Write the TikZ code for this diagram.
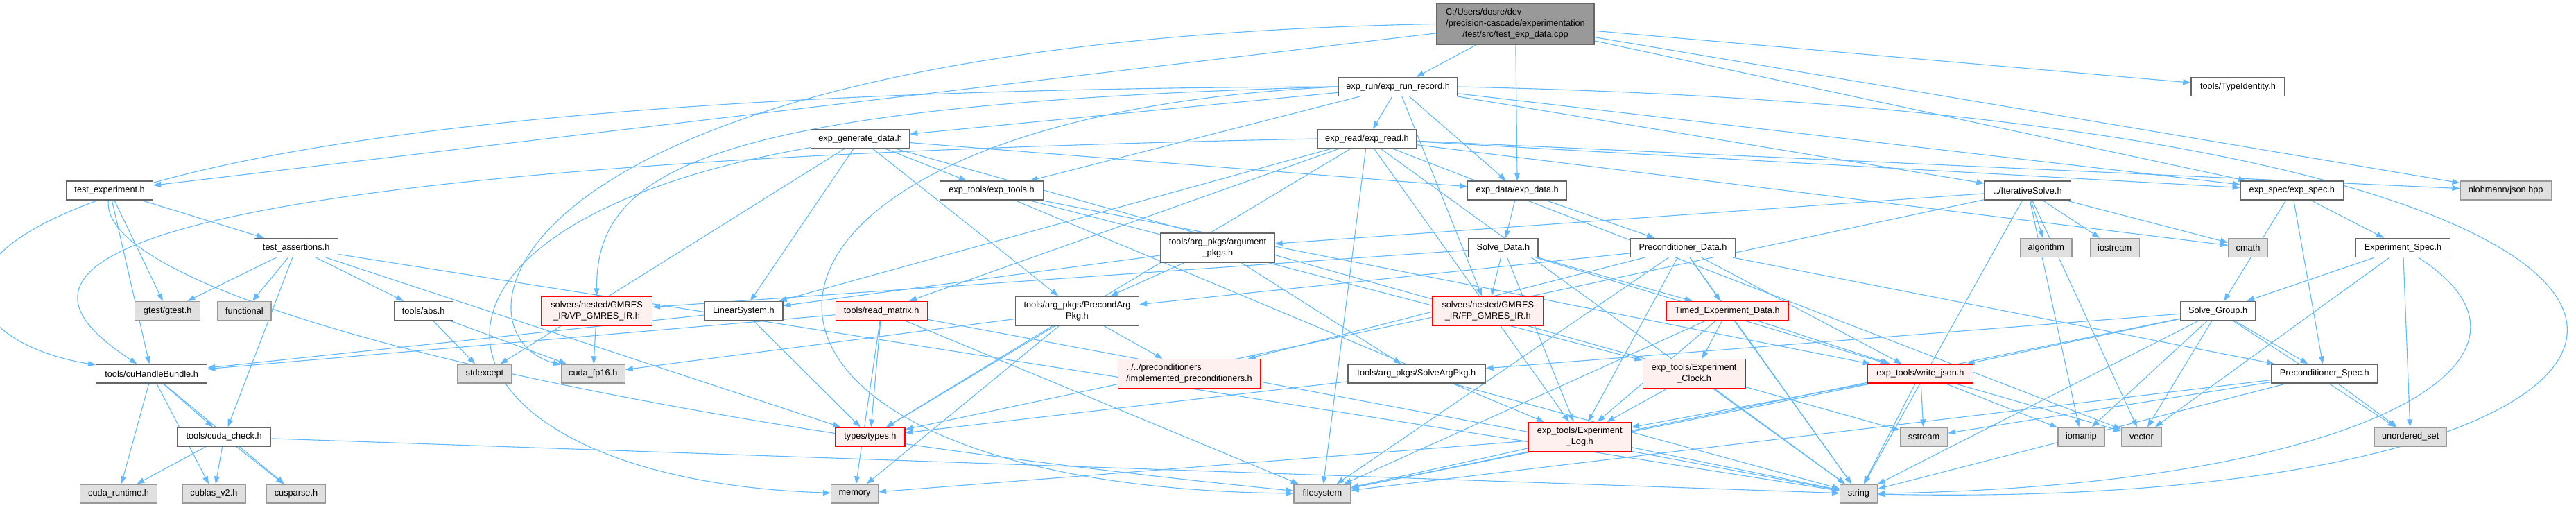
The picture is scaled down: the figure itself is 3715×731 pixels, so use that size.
\documentclass[tikz,border=0pt]{standalone}
\usepackage{fontspec}
\setmainfont{Liberation Sans}
\usetikzlibrary{arrows.meta, positioning}
\definecolor{edgeblue}{RGB}{99,184,255}
\definecolor{redfill}{HTML}{FFF0F0}
\definecolor{sysfill}{HTML}{E0E0E0}
\definecolor{rootfill}{HTML}{999999}
\pgfdeclarelayer{edges}
\pgfsetlayers{edges,main}

\begin{document}
\begin{tikzpicture}[x=1pt, y=1pt,
  hdr/.style={rectangle, draw=black!60, fill=white, line width=1.3pt,
              minimum height=27pt, inner sep=1pt, align=center,
              font=\fontsize{12.75}{16}\selectfont},
  twoline/.style={minimum height=42pt},
  syshdr/.style={hdr, draw=black!40, fill=sysfill},
  trunchdr/.style={hdr, draw=red, fill=redfill},
  srcbox/.style={hdr, fill=rootfill, minimum height=59pt},
  inc/.style={-{Triangle[length=11pt, width=8pt]}, draw=edgeblue, line width=1.1pt}
]
  \useasboundingbox (0,0) rectangle (3715,-731);

  % row 0
  \node[srcbox, minimum width=227pt] (root) at (2185.5,-34.5)
    {\rlap{C:/Users/dosre/dev}\phantom{/precision-cascade/experimentation}\\/precision-cascade/experimentation\\/test/src/test\_exp\_data.cpp};

  % row 1
  \node[hdr, minimum width=171pt, anchor=west] (exprun) at (1930,-125) {exp\_run/exp\_run\_record.h};
  \node[hdr, minimum width=135pt, right=1057pt of exprun] (typeid) {tools/TypeIdentity.h};

  % row 2
  \node[hdr, minimum width=142pt, anchor=west] (expgen) at (1169,-200) {exp\_generate\_data.h};
  \node[hdr, minimum width=143pt, right=587pt of expgen] (expread) {exp\_read/exp\_read.h};

  % row 3
  \node[hdr, minimum width=125pt, anchor=west] (testexp) at (95,-274.5) {test\_experiment.h};
  \node[hdr, minimum width=149pt, right=1133.5pt of testexp] (exptools) {exp\_tools/exp\_tools.h};
  \node[hdr, minimum width=143pt, right=611pt of exptools] (expdata) {exp\_data/exp\_data.h};
  \node[hdr, minimum width=124.5pt, right=601pt of expdata] (itsolve) {../IterativeSolve.h};
  \node[hdr, minimum width=148pt, right=243.5pt of itsolve] (expspec) {exp\_spec/exp\_spec.h};
  \node[syshdr, minimum width=131pt, right=167.5pt of expspec] (json) {nlohmann/json.hpp};

  % row 4
  \node[hdr, minimum width=121pt, anchor=west] (testassert) at (366,-357) {test\_assertions.h};
  \node[hdr, twoline, minimum width=164pt, right=1185pt of testassert] (argpkgs) {tools/arg\_pkgs/argument\\\_pkgs.h};
  \node[hdr, minimum width=100pt, right=278.6pt of argpkgs] (solvedata) {Solve\_Data.h};
  \node[hdr, minimum width=151pt, right=132.4pt of solvedata] (precdata) {Preconditioner\_Data.h};
  \node[syshdr, minimum width=74pt, right=410pt of precdata] (algorithm) {algorithm};
  \node[syshdr, minimum width=71pt, right=25pt of algorithm] (iostream) {iostream};
  \node[syshdr, minimum width=57pt, right=127pt of iostream] (cmath) {cmath};
  \node[hdr, minimum width=135.5pt, right=126pt of cmath] (expspecf) {Experiment\_Spec.h};

  % row 5
  \node[syshdr, minimum width=94pt, anchor=west] (gtest) at (194,-448) {gtest/gtest.h};
  \node[syshdr, minimum width=77pt, right=24pt of gtest] (functional) {functional};
  \node[hdr, minimum width=85pt, right=176pt of functional] (abs) {tools/abs.h};
  \node[trunchdr, twoline, minimum width=160pt, right=126pt of abs] (vpgmres) {solvers/nested/GMRES\\\_IR/VP\_GMRES\_IR.h};
  \node[hdr, minimum width=113pt, right=74pt of vpgmres] (linsys) {LinearSystem.h};
  \node[trunchdr, minimum width=132pt, right=75pt of linsys] (readmat) {tools/read\_matrix.h};
  \node[hdr, twoline, minimum width=178pt, right=126pt of readmat] (precarg) {tools/arg\_pkgs/PrecondArg\\Pkg.h};
  \node[trunchdr, twoline, minimum width=160pt, right=422pt of precarg] (fpgmres) {solvers/nested/GMRES\\\_IR/FP\_GMRES\_IR.h};
  \node[trunchdr, minimum width=176pt, right=176pt of fpgmres] (timed) {Timed\_Experiment\_Data.h};
  \node[hdr, minimum width=107.5pt, right=564.5pt of timed] (solvegroup) {Solve\_Group.h};

  % row 6
  \node[hdr, minimum width=160pt, anchor=west] (cuhandle) at (138,-538.5) {tools/cuHandleBundle.h};
  \node[syshdr, minimum width=78pt, right=360pt of cuhandle] (stdexcept) {stdexcept};
  \node[syshdr, minimum width=92pt, right=70pt of stdexcept] (cudafp) {cuda\_fp16.h};
  \node[trunchdr, twoline, minimum width=205pt, align=left, right=710pt of cudafp] (implprec) {../../preconditioners\\/implemented\_preconditioners.h};
  \node[hdr, minimum width=198pt, right=125pt of implprec] (solvearg) {tools/arg\_pkgs/SolveArgPkg.h};
  \node[trunchdr, twoline, minimum width=148pt, right=226pt of solvearg] (clock) {exp\_tools/Experiment\\\_Clock.h};
  \node[trunchdr, minimum width=152pt, right=175pt of clock] (writejson) {exp\_tools/write\_json.h};
  \node[hdr, minimum width=153pt, right=429pt of writejson] (precspec) {Preconditioner\_Spec.h};

  % row 7
  \node[hdr, minimum width=135pt, anchor=west] (cudacheck) at (255,-629.5) {tools/cuda\_check.h};
  \node[trunchdr, minimum width=100pt, right=813pt of cudacheck] (types) {types/types.h};
  \node[trunchdr, twoline, minimum width=148pt, right=898pt of types] (explog) {exp\_tools/Experiment\\\_Log.h};
  \node[syshdr, minimum width=68pt, right=387pt of explog] (sstream) {sstream};
  \node[syshdr, minimum width=67pt, right=158pt of sstream] (iomanip) {iomanip};
  \node[syshdr, minimum width=57.5pt, right=23.5pt of iomanip] (vector) {vector};
  \node[syshdr, minimum width=103.5pt, right=306pt of vector] (unordset) {unordered\_set};

  % row 8
  \node[syshdr, minimum width=111pt, anchor=west] (cudart) at (115,-711.5) {cuda\_runtime.h};
  \node[syshdr, minimum width=91pt, right=35pt of cudart] (cublas) {cublas\_v2.h};
  \node[syshdr, minimum width=85.5pt, right=29pt of cublas] (cusparse) {cusparse.h};
  \node[syshdr, minimum width=68pt, right=727.5pt of cusparse] (memory) {memory};
  \node[syshdr, minimum width=82pt, right=598pt of memory] (filesystem) {filesystem};
  \node[syshdr, minimum width=53.5pt, right=704.5pt of filesystem] (string) {string};

  \begin{pgfonlayer}{edges}
  % includes of the test source
  \draw[inc] (root) -- (exprun);
  \draw[inc] (root) -- (expdata);
  \draw[inc] (root) -- (testexp);
  \draw[inc] (root.west) .. controls (700,-60) and (640,-480) .. (cudafp);
  \draw[inc] (root) -- (typeid);
  \draw[inc] (root) -- (json);
  \draw[inc] (root) -- (expspec);

  % exp_run_record.h
  \draw[inc] (exprun) -- (expread);
  \draw[inc] (exprun) -- (expdata);
  \draw[inc] (exprun) -- (expgen);
  \draw[inc] (exprun) -- (exptools);
  \draw[inc] (exprun) -- (itsolve);
  \draw[inc] (exprun) -- (expspec);
  \draw[inc] (exprun) -- (fpgmres);
  \draw[inc] (exprun.west) .. controls (-300,-130) and (-150,-480) .. (cuhandle);
  \draw[inc] (exprun.west) .. controls (1000,-150) and (860,-250) .. (vpgmres);
  \draw[inc] (exprun.west) .. controls (960,-170) and (940,-700) .. (filesystem);
  \draw[inc] (exprun.east) .. controls (4200,-170) and (4050,-740) .. (string);

  % exp_read.h
  \draw[inc] (expread) -- (json);
  \draw[inc] (expread) -- (expspec);
  \draw[inc] (expread) -- (cmath);
  \draw[inc] (expread) -- (vector);
  \draw[inc] (expread) -- (readmat);
  \draw[inc] (expread) -- (types);
  \draw[inc] (expread) -- (linsys);
  \draw[inc] (expread) -- (explog);
  \draw[inc] (expread) -- (string);
  \draw[inc] (expread) -- (filesystem);
  \draw[inc] (expread.west) .. controls (-100,-240) and (40,-420) .. (cuhandle);

  % exp_generate_data.h
  \draw[inc] (expgen) -- (exptools);
  \draw[inc] (expgen) -- (expdata);
  \draw[inc] (expgen) -- (stdexcept);
  \draw[inc] (expgen) -- (linsys);
  \draw[inc] (expgen) -- (precarg);
  \draw[inc] (expgen) -- (sstream);
  \draw[inc] (expgen) .. controls (500,-330) and (600,-690) .. (memory);

  % test headers
  \draw[inc] (testexp) -- (testassert);
  \draw[inc] (testexp) -- (gtest);
  \draw[inc] (testexp) -- (cuhandle);
  \draw[inc] (testexp) .. controls (140,-420) and (800,-600) .. (filesystem);
  \draw[inc] (testassert) -- (gtest);
  \draw[inc] (testassert) -- (functional);
  \draw[inc] (testassert) -- (abs);
  \draw[inc] (testassert) -- (cudacheck);
  \draw[inc] (testassert) -- (types);
  \draw[inc] (testassert) -- (string);

  % tools
  \draw[inc] (abs) -- (stdexcept);
  \draw[inc] (abs) -- (cudafp);
  \draw[inc] (cuhandle) -- (cudacheck);
  \draw[inc] (cuhandle) -- (cudart);
  \draw[inc] (cuhandle) -- (cublas);
  \draw[inc] (cuhandle) -- (cusparse);
  \draw[inc] (cudacheck) -- (cudart);
  \draw[inc] (cudacheck) -- (cublas);
  \draw[inc] (cudacheck) -- (cusparse);
  \draw[inc] (cudacheck) -- (string);
  \draw[inc] (vpgmres) -- (cudafp);
  \draw[inc] (linsys) -- (cuhandle);
  \draw[inc] (linsys) -- (types);
  \draw[inc] (readmat) -- (cuhandle);
  \draw[inc] (readmat) -- (types);
  \draw[inc] (readmat) -- (memory);
  \draw[inc] (readmat) -- (string);
  \draw[inc] (readmat) -- (filesystem);
  \draw[inc] (precarg) -- (cudafp);
  \draw[inc] (precarg) -- (implprec);
  \draw[inc] (precarg) -- (types);
  \draw[inc] (precarg) -- (memory);
  \draw[inc] (argpkgs) -- (linsys);
  \draw[inc] (argpkgs) -- (precarg);
  \draw[inc] (argpkgs) -- (solvearg);
  \draw[inc] (solvearg) -- (types);
  \draw[inc] (solvearg) -- (string);

  % exp_tools and exp_data
  \draw[inc] (exptools) -- (explog);
  \draw[inc] (exptools) -- (clock);
  \draw[inc] (exptools) -- (writejson);
  \draw[inc] (expdata) -- (solvedata);
  \draw[inc] (expdata) -- (precdata);
  \draw[inc] (solvedata) -- (fpgmres);
  \draw[inc] (solvedata) -- (vpgmres);
  \draw[inc] (solvedata) -- (timed);
  \draw[inc] (solvedata) -- (writejson);
  \draw[inc] (solvedata) -- (explog);
  \draw[inc] (precdata) -- (precarg);
  \draw[inc] (precdata) -- (timed);
  \draw[inc] (precdata) -- (implprec);
  \draw[inc] (precdata) -- (writejson);
  \draw[inc] (precdata) -- (precspec);
  \draw[inc] (precdata) -- (explog);
  \draw[inc] (precdata) -- (filesystem);
  \draw[inc] (precdata) -- (string);
  \draw[inc] (timed) -- (clock);
  \draw[inc] (timed) -- (writejson);
  \draw[inc] (timed) -- (explog);
  \draw[inc] (timed) -- (string);
  \draw[inc] (timed) -- (filesystem);
  \draw[inc] (clock) -- (explog);
  \draw[inc] (clock) -- (string);
  \draw[inc] (writejson) -- (sstream);
  \draw[inc] (writejson) -- (iomanip);
  \draw[inc] (writejson) -- (vector);
  \draw[inc] (writejson) -- (string);
  \draw[inc] (writejson) -- (filesystem);
  \draw[inc] (writejson) -- (explog);
  \draw[inc] (explog) -- (memory);
  \draw[inc] (explog) -- (filesystem);
  \draw[inc] (explog) -- (string);

  % IterativeSolve.h
  \draw[inc] (itsolve) -- (argpkgs);
  \draw[inc] (itsolve) -- (algorithm);
  \draw[inc] (itsolve) -- (iostream);
  \draw[inc] (itsolve) -- (cmath);
  \draw[inc] (itsolve) -- (iomanip);
  \draw[inc] (itsolve) -- (vector);
  \draw[inc] (itsolve) -- (string);
  \draw[inc] (itsolve) -- (types);

  % exp_spec
  \draw[inc] (expspec) -- (expspecf);
  \draw[inc] (expspec) -- (solvegroup);
  \draw[inc] (expspec) -- (precspec);
  \draw[inc] (expspecf) -- (solvegroup);
  \draw[inc] (expspecf) -- (vector);
  \draw[inc] (expspecf) -- (unordset);
  \draw[inc] (expspecf) .. controls (3720,-520) and (3400,-700) .. (string);
  \draw[inc] (solvegroup) -- (precspec);
  \draw[inc] (solvegroup) -- (solvearg);
  \draw[inc] (solvegroup) -- (writejson);
  \draw[inc] (solvegroup) -- (iomanip);
  \draw[inc] (solvegroup) -- (vector);
  \draw[inc] (solvegroup) -- (unordset);
  \draw[inc] (solvegroup) -- (string);
  \draw[inc] (solvegroup) -- (filesystem);
  \draw[inc] (precspec) -- (sstream);
  \draw[inc] (precspec) -- (unordset);
  \draw[inc] (precspec) -- (string);
  \draw[inc] (precspec) -- (filesystem);
  \end{pgfonlayer}
\end{tikzpicture}
\end{document}
